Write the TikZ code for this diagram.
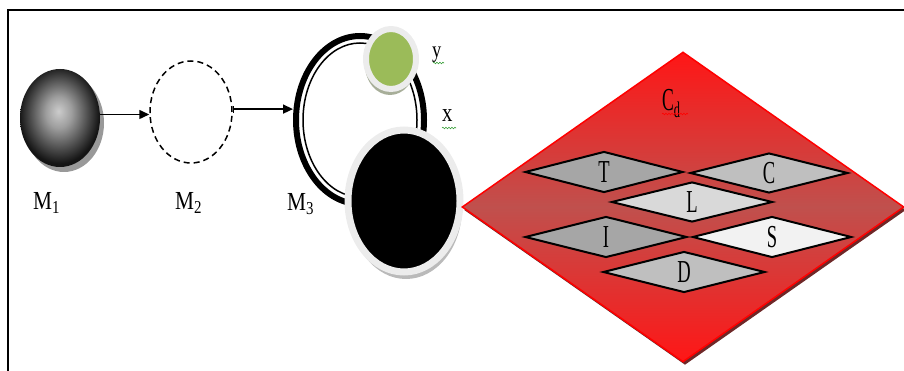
\documentclass[tikz,border=0pt]{standalone}
\usepackage{fontspec}
\setmainfont{Liberation Serif}
\usetikzlibrary{shapes.geometric,arrows.meta,shadows,decorations.pathmorphing}
\pgfdeclareradialshading{myball}{\pgfpoint{-1bp}{3.5bp}}{color(0bp)=(black!20); color(8bp)=(black!38); color(18bp)=(black!70); color(25bp)=(black!92); color(50bp)=(black!92)}
\definecolor{ballgreen}{RGB}{155,187,89}
\definecolor{glowgray}{RGB}{236,236,236}
\definecolor{redtop}{RGB}{255,22,22}
\definecolor{redmid}{RGB}{192,80,77}
\definecolor{redshadow}{RGB}{110,40,40}
\definecolor{gA}{RGB}{166,166,166}
\definecolor{gB}{RGB}{191,191,191}
\definecolor{gC}{RGB}{217,217,217}
\definecolor{gD}{RGB}{242,242,242}
\definecolor{squig}{RGB}{60,160,60}
\newcommand\cnd[2]{\scalebox{#1}[1]{#2}}
\begin{document}
\begin{tikzpicture}[x=1pt,y=-1pt,
  lbl/.style={inner sep=0pt, font=\fontsize{26}{26}\selectfont},
  smalldia/.style={diamond, draw=black, line width=2pt, inner sep=0pt, shape aspect=4, font=\fontsize{32}{32}\selectfont},
  conn/.style={line width=1.5pt, -{Triangle[length=10pt,width=9pt]}},
  squiggle/.style={draw=squig, line width=0.6pt, decorate, decoration={snake, amplitude=0.8pt, segment length=3pt}}]
\useasboundingbox (0,0) rectangle (904,371);
% frame
\draw[line width=2pt] (8,371) -- (8,10) -- (904,10);

% M1 ball
\node[ellipse, minimum width=80pt, minimum height=98pt, inner sep=0pt, shade, shading=myball,
  drop shadow={shadow xshift=4pt, shadow yshift=-5pt, fill=black!50, opacity=0.8}] (m1) at (60,118) {};
% M2 dashed
\node[ellipse, draw, line width=1.5pt, dash pattern=on 6pt off 4pt, minimum width=82pt, minimum height=102pt, inner sep=0pt] (m2) at (191,112) {};
% M3 ring
\node[ellipse, draw, line width=6pt, minimum width=128pt, minimum height=168pt, inner sep=0pt] (m3) at (360,120) {};
\node[ellipse, draw, line width=1.5pt, minimum width=114pt, minimum height=154pt, inner sep=0pt] (m3in) at (360,120) {};

% green ball y
\node[ellipse, fill=ballgreen, draw=glowgray, line width=6pt, minimum width=50pt, minimum height=60pt, inner sep=0pt,
  drop shadow={shadow xshift=-1pt, shadow yshift=-6pt, fill={rgb,255:red,130;green,140;blue,110}, opacity=0.7}] (yb) at (391,59) {};
% black ball x
\node[ellipse, fill=black, draw=glowgray, line width=7pt, minimum width=112pt, minimum height=142pt, inner sep=0pt,
  drop shadow={shadow xshift=2pt, shadow yshift=-7pt, fill=black!30, opacity=0.9}] (xb) at (404,201) {};

% connectors
\draw[conn] (m1.5) -- (m1.5 -| m2.west);
\draw[line width=1.5pt, {Bar[width=7pt]}-{Triangle[length=10pt,width=9pt]}] (m2.4) -- (m2.4 -| m3.west);

% labels
\node[lbl, anchor=base west] (l1) at (33,210) {\cnd{0.82}{M\textsubscript{1}}};
\node[lbl, anchor=base west] (l2) at (175,210) {\cnd{0.82}{M\textsubscript{2}}};
\node[lbl, anchor=base west] (l3) at (287,211) {\cnd{0.82}{M\textsubscript{3}}};
\node[inner sep=0pt, font=\fontsize{23}{23}\selectfont, anchor=base west] (ylab) at (432,58) {\cnd{0.8}{y}};
\node[inner sep=0pt, font=\fontsize{26}{26}\selectfont, anchor=base west] (xlab) at (442,122) {\cnd{0.8}{x}};
\draw[squiggle] (433,63) -- (444,63);
\draw[squiggle] (442,128) -- (456,128);

% red diamond
\node[diamond, draw=red, line width=1.5pt, inner sep=0pt, minimum width=442pt, minimum height=310pt,
  top color=redtop, bottom color=redtop, middle color=redmid,
  drop shadow={shadow xshift=2pt, shadow yshift=-3pt, fill=redshadow, opacity=1}] (cd) at (683,207) {};
\node[inner sep=0pt, font=\fontsize{32}{32}\selectfont, anchor=base west] (cdlab) at (662,111) {\cnd{0.55}{C\textsubscript{d}}};
\draw[squiggle, draw=red] (662,114) -- (688,114);

% inner diamonds
\node[smalldia, fill=gA, minimum width=158pt, minimum height=41pt] (t) at (604,172) {\cnd{0.58}{T}};
\node[smalldia, fill=gB, minimum width=158pt, minimum height=40pt] (c) at (769,173) {\cnd{0.58}{C}};
\node[smalldia, fill=gC, minimum width=161pt, minimum height=40pt] (l) at (692,202) {\cnd{0.58}{L}};
\node[smalldia, fill=gA, minimum width=162pt, minimum height=41pt] (i) at (606,237) {\cnd{0.58}{I}};
\node[smalldia, fill=gD, minimum width=159pt, minimum height=41pt] (s) at (772,237) {\cnd{0.58}{S}};
\node[smalldia, fill=gB, minimum width=162pt, minimum height=41pt] (d) at (684,272) {\cnd{0.58}{D}};
\end{tikzpicture}
\end{document}
